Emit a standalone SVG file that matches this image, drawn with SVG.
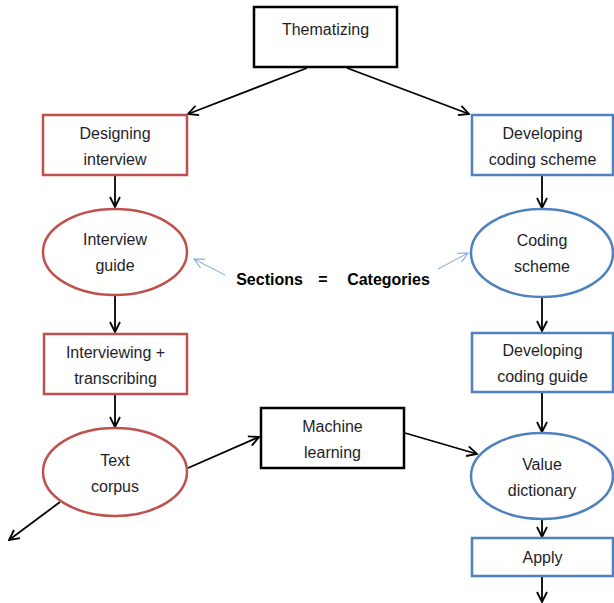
<svg xmlns="http://www.w3.org/2000/svg" width="614" height="603" viewBox="0 0 614 603">
<style>
text{font-family:"Liberation Sans",Arial,sans-serif;font-size:16px;fill:#1e1e28;text-anchor:middle}
.b{font-weight:bold;fill:#000}
.blk{fill:#fff;stroke:#000;stroke-width:2.5}
.red{fill:#fff;stroke:#c0504d;stroke-width:2.5}
.blu{fill:#fff;stroke:#4f81bd;stroke-width:2.5}
.c{stroke:#000;stroke-width:1.8;fill:none;marker-end:url(#ah)}
.lb{stroke:#7fa6d6;stroke-width:1;fill:none;marker-end:url(#ahb)}
</style>
<defs>
<marker id="ah" viewBox="0 0 12 12" refX="11" refY="6" markerWidth="12" markerHeight="12" markerUnits="userSpaceOnUse" orient="auto">
<path d="M1,1 L11,6 L1,11" fill="none" stroke="#000" stroke-width="1.8"/>
</marker>
<marker id="ahb" viewBox="0 0 12 12" refX="11" refY="6" markerWidth="12" markerHeight="12" markerUnits="userSpaceOnUse" orient="auto">
<path d="M1,1 L11,6 L1,11" fill="none" stroke="#7fa6d6" stroke-width="1"/>
</marker>
</defs>
<g id="connectors">
<line class="c" x1="307" y1="68" x2="188" y2="114"/>
<line class="c" x1="347" y1="68" x2="469" y2="114"/>
<line class="c" x1="115" y1="176" x2="115" y2="207"/>
<line class="c" x1="115" y1="295" x2="115" y2="332"/>
<line class="c" x1="115" y1="395" x2="115" y2="427"/>
<line class="c" x1="60" y1="502" x2="9" y2="540"/>
<line class="c" x1="188" y1="468" x2="259" y2="437"/>
<line class="c" x1="405" y1="433" x2="477" y2="454"/>
<line class="c" x1="542" y1="176" x2="542" y2="208"/>
<line class="c" x1="542" y1="297" x2="542" y2="331"/>
<line class="c" x1="542" y1="393" x2="542" y2="432"/>
<line class="c" x1="542" y1="519" x2="542" y2="537"/>
<line class="c" x1="542" y1="577" x2="542" y2="602"/>
<line class="lb" x1="225" y1="275" x2="194" y2="259"/>
<line class="lb" x1="438" y1="269" x2="468" y2="253"/>
</g>
<g id="thematizing"><rect class="blk" x="254" y="7" width="143" height="60"/><text x="325.5" y="35">Thematizing</text></g>
<g id="designing"><rect class="red" x="43" y="115" width="144" height="60"/><text x="115" y="139">Designing</text><text x="115" y="165">interview</text></g>
<g id="devscheme"><rect class="blu" x="472" y="115" width="141" height="60"/><text x="542.5" y="139">Developing</text><text x="542.5" y="165">coding scheme</text></g>
<g id="guide"><ellipse class="red" cx="115" cy="252" rx="72" ry="43"/><text x="115" y="245">Interview</text><text x="115" y="271">guide</text></g>
<g id="scheme"><ellipse class="blu" cx="542" cy="253" rx="71" ry="44"/><text x="542" y="246">Coding</text><text x="542" y="272">scheme</text></g>
<g id="equiv"><text class="b" x="269.5" y="285">Sections</text><text class="b" x="323" y="285">=</text><text class="b" x="388.5" y="285">Categories</text></g>
<g id="interviewing"><rect class="red" x="44" y="334" width="143" height="60"/><text x="115.5" y="358">Interviewing +</text><text x="115.5" y="384">transcribing</text></g>
<g id="devguide"><rect class="blu" x="472" y="333" width="141" height="59"/><text x="542.5" y="356">Developing</text><text x="542.5" y="382">coding guide</text></g>
<g id="corpus"><ellipse class="red" cx="115" cy="472" rx="72" ry="44"/><text x="115" y="466">Text</text><text x="115" y="492">corpus</text></g>
<g id="ml"><rect class="blk" x="261" y="408" width="143" height="60"/><text x="332.5" y="432">Machine</text><text x="332.5" y="458">learning</text></g>
<g id="dictionary"><ellipse class="blu" cx="542" cy="476" rx="71" ry="43"/><text x="542" y="470">Value</text><text x="542" y="496">dictionary</text></g>
<g id="apply"><rect class="blu" x="472" y="538" width="141" height="38"/><text x="542.5" y="563">Apply</text></g>
</svg>
